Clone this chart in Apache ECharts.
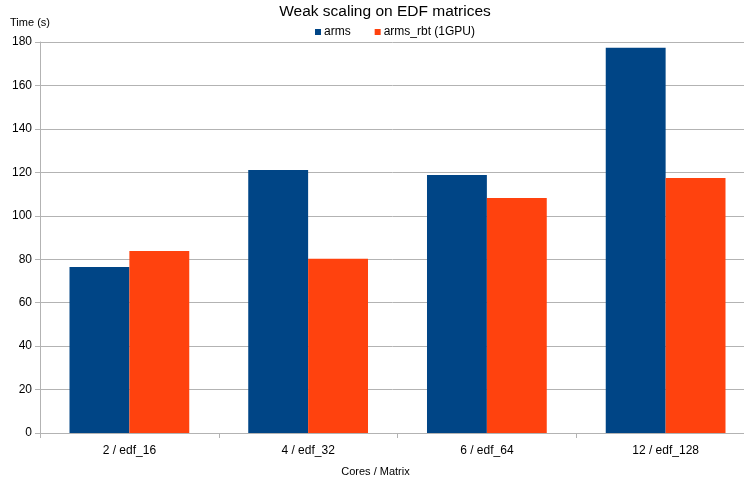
<!DOCTYPE html>
<html>
<head>
<meta charset="utf-8">
<script src="https://cdn.jsdelivr.net/npm/echarts@6/dist/echarts.min.js"></script>
<style>
  html, body { margin: 0; padding: 0; background: #fff; }
  #chart { width: 744px; height: 479px; }
</style>
</head>
<body>
<div id="chart"></div>
<script>
// data
var categories = ['2 / edf_16', '4 / edf_32', '6 / edf_64', '12 / edf_128'];
var armsValues = [76.4, 121.1, 118.8, 177.4];
var armsRbtValues = [83.8, 80.2, 108.2, 117.4];

var chart = echarts.init(document.getElementById('chart'));
var font = 'Liberation Sans, Arial, sans-serif';

var option = {
  animation: false,
  textStyle: { fontFamily: font },
  title: {
    text: 'Weak scaling on EDF matrices',
    left: 380,
    textAlign: 'center',
    top: 0,
    padding: [4, 5],
    textStyle: { fontSize: 15.5, fontWeight: 'normal', color: '#000', fontFamily: font }
  },
  legend: {
    top: 21,
    left: 310,
    itemWidth: 6,
    itemHeight: 6,
    itemGap: 24,
    icon: 'rect',
    textStyle: { fontSize: 12, color: '#000', fontFamily: font, padding: [0, 0, 0, -2] },
    data: ['arms', 'arms_rbt (1GPU)']
  },
  // plot runs a little past the right edge, as in the original
  grid: { left: 40, right: -11, top: 42, bottom: 46, containLabel: false, outerBoundsMode: 'none' },
  xAxis: {
    type: 'category',
    data: categories,
    name: 'Cores / Matrix',
    nameLocation: 'middle',
    nameGap: 33,
    nameTextStyle: { fontSize: 11, color: '#000', padding: [0, 44, 0, 0] },
    axisLine: { lineStyle: { color: '#b3b3b3', width: 1 } },
    axisTick: { show: true, length: 5, lineStyle: { color: '#b3b3b3' } },
    axisLabel: { fontSize: 12, color: '#000', margin: 12 }
  },
  yAxis: {
    type: 'value',
    min: 0,
    max: 180,
    interval: 20,
    name: 'Time (s)',
    nameLocation: 'end',
    nameGap: 14,
    nameTextStyle: { fontSize: 11, color: '#000', align: 'center', padding: [0, 0, 0, -20] },
    axisLine: { show: true, lineStyle: { color: '#b3b3b3' } },
    axisTick: { show: true, length: 5, lineStyle: { color: '#b3b3b3' } },
    axisLabel: { fontSize: 12, color: '#000', margin: 8 },
    splitLine: { lineStyle: { color: '#b3b3b3', width: 1 } }
  },
  series: [
    {
      name: 'arms',
      type: 'bar',
      data: armsValues,
      barGap: '0%',
      barCategoryGap: '33%',
      itemStyle: { color: '#004586' }
    },
    {
      name: 'arms_rbt (1GPU)',
      type: 'bar',
      data: armsRbtValues,
      itemStyle: { color: '#ff420e' }
    }
  ]
};

chart.setOption(option);
</script>
</body>
</html>
